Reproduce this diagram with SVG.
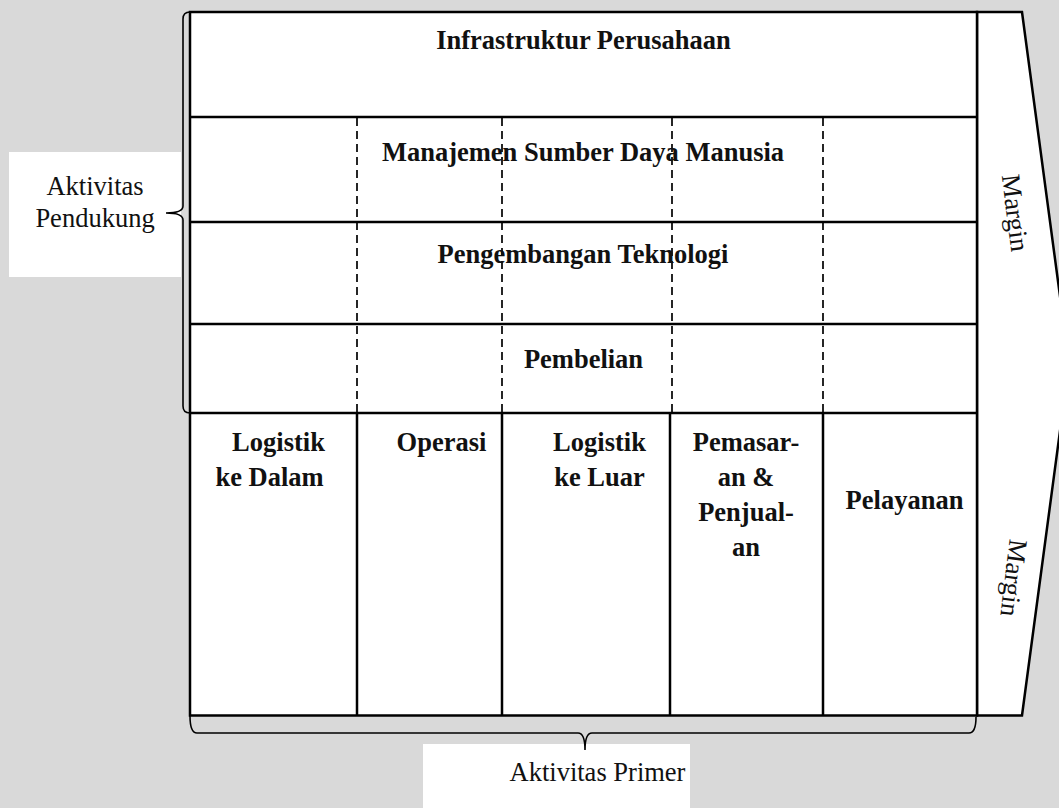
<svg xmlns="http://www.w3.org/2000/svg" width="1059" height="808" viewBox="0 0 1059 808">
<style>
.bg{fill:#d9d9d9}
.box{fill:#ffffff;stroke:none}
.cell{fill:#ffffff;stroke:#000;stroke-width:2.5}
.ln{stroke:#000;stroke-width:2.5;fill:none}
.dash{stroke:#000;stroke-width:1.7;fill:none;stroke-dasharray:8 5}
.brace{stroke:#000;stroke-width:1.6;fill:none}
.b{font-family:"Liberation Serif","Times New Roman",serif;font-weight:bold;font-size:26.5px;fill:#111;text-anchor:middle}
.r{font-family:"Liberation Serif","Times New Roman",serif;font-size:26.5px;fill:#111;text-anchor:middle}
</style>
<rect class="bg" x="0" y="0" width="1059" height="808"/>

<g id="label-pendukung">
<rect class="box" x="9" y="152" width="172" height="125"/>
<text class="r" x="95" y="195">Aktivitas</text>
<text class="r" x="95" y="227">Pendukung</text>
</g>

<g id="label-primer">
<rect class="box" x="423" y="744" width="267" height="64"/>
<text class="r" x="597.5" y="781">Aktivitas Primer</text>
</g>

<g id="margin">
<polygon class="cell" points="977,12 1022,12 1069,363.5 1022,715.5 977,715.5"/>
<text class="r" font-size="28" transform="translate(1006.5,214) rotate(82.8)">Margin</text>
<text class="r" font-size="28" transform="translate(1005,577) rotate(97)">Margin</text>
</g>

<g id="table">
<rect class="cell" x="190" y="12" width="787" height="703.5"/>
</g>

<g id="connectors">
<line class="ln" x1="190" y1="117" x2="977" y2="117"/>
<line class="ln" x1="190" y1="222" x2="977" y2="222"/>
<line class="ln" x1="190" y1="324" x2="977" y2="324"/>
<line class="ln" x1="190" y1="413" x2="977" y2="413"/>
<line class="dash" x1="357" y1="118" x2="357" y2="412"/>
<line class="dash" x1="502" y1="118" x2="502" y2="412"/>
<line class="dash" x1="672" y1="118" x2="672" y2="412"/>
<line class="dash" x1="823" y1="118" x2="823" y2="412"/>
<line class="ln" x1="357" y1="413" x2="357" y2="715.5"/>
<line class="ln" x1="502" y1="413" x2="502" y2="715.5"/>
<line class="ln" x1="670" y1="413" x2="670" y2="715.5"/>
<line class="ln" x1="823" y1="413" x2="823" y2="715.5"/>
<path class="brace" d="M190,12 Q183,12 183,19 L183,206 Q183,213 166,213 Q183,213 183,220 L183,406 Q183,413 190,413"/>
<path class="brace" d="M190,716 Q190,733 197,733 L578,733 Q585,733 585,750 Q585,733 592,733 L969,733 Q976,733 976,717"/>
</g>

<g id="infrastruktur"><text class="b" x="583.5" y="49">Infrastruktur Perusahaan</text></g>
<g id="sdm"><text class="b" x="583" y="161">Manajemen Sumber Daya Manusia</text></g>
<g id="teknologi"><text class="b" x="583" y="263">Pengembangan Teknologi</text></g>
<g id="pembelian"><text class="b" x="583.5" y="368">Pembelian</text></g>

<g id="logistik-dalam">
<text class="b" x="278.5" y="451">Logistik</text>
<text class="b" x="269.5" y="486">ke Dalam</text>
</g>
<g id="operasi"><text class="b" x="441.5" y="451">Operasi</text></g>
<g id="logistik-luar">
<text class="b" x="599.5" y="451">Logistik</text>
<text class="b" x="599.5" y="486">ke Luar</text>
</g>
<g id="pemasaran">
<text class="b" x="746" y="451">Pemasar-</text>
<text class="b" x="746" y="486">an &amp;</text>
<text class="b" x="746" y="521">Penjual-</text>
<text class="b" x="746" y="556">an</text>
</g>
<g id="pelayanan"><text class="b" x="904.5" y="509">Pelayanan</text></g>
</svg>
